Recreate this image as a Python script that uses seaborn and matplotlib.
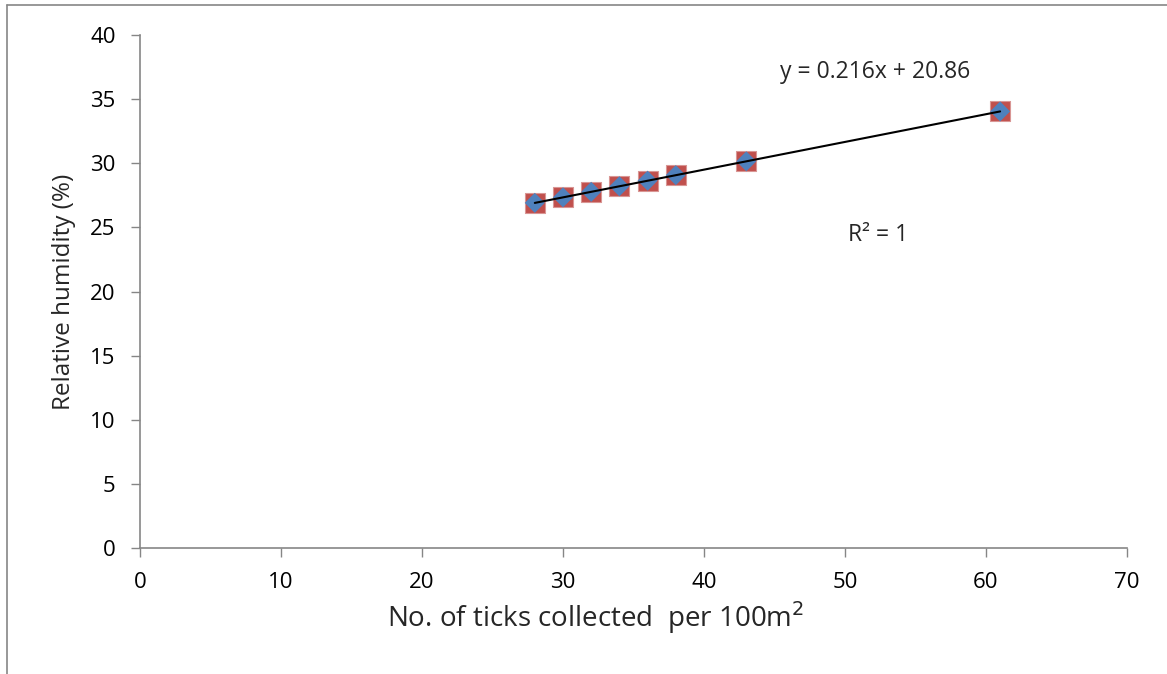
import matplotlib
matplotlib.use("Agg")
import matplotlib.pyplot as plt
import seaborn as sns
import numpy as np
import pandas as pd
from matplotlib.lines import Line2D

ticks_per_100m2 = [28, 30, 32, 34, 36, 38, 43, 61]
relative_humidity = [26.91, 27.34, 27.77, 28.20, 28.64, 29.07, 30.15, 34.04]
x_ticks = [0, 10, 20, 30, 40, 50, 60, 70]
y_ticks = [0, 5, 10, 15, 20, 25, 30, 35, 40]

df = pd.DataFrame({"x": ticks_per_100m2, "y": relative_humidity})

sns.set_theme(style="white")
plt.rcParams["font.family"] = ["Open Sans", "DejaVu Sans"]

fig = plt.figure(figsize=(11.67, 6.74), dpi=100)
ax = fig.add_axes([140/1167, 1 - 548/674, (1127-140)/1167, (548-35)/674])

sns.regplot(data=df, x="x", y="y", ax=ax, scatter=False, ci=None, truncate=True,
            line_kws=dict(color="black", lw=1.5, zorder=4))
sns.scatterplot(data=df, x="x", y="y", ax=ax, marker="s", s=200, color="#C0504D",
                edgecolor="#D99694", linewidth=0.8, zorder=3)
sns.scatterplot(data=df, x="x", y="y", ax=ax, marker="D", s=105, color="#4F81BD",
                edgecolor="none", zorder=3.5)

ax.set_xlim(0, 70)
ax.set_ylim(0, 40)
ax.set_xticks(x_ticks)
ax.set_yticks(y_ticks)
ax.tick_params(axis="both", labelsize=16, colors="#000000", direction="out", length=6.5,
               width=1, color="#868686", left=True, bottom=True)
ax.tick_params(axis="y", pad=11)
ax.tick_params(axis="x", pad=11)
sns.despine(ax=ax)
for s in ["left", "bottom"]:
    ax.spines[s].set_color("#868686")
    ax.spines[s].set_linewidth(1.2)
ax.set_xlabel("No. of ticks collected  per 100m$^2$", fontsize=20)
ax.xaxis.label.set_va("center")
ax.xaxis.set_label_coords(0.462, -0.136)
ax.set_ylabel("Relative humidity (%)", fontsize=17.5, labelpad=10)

ax.text(0.745, 0.927, "y = 0.216x + 20.86", transform=ax.transAxes, fontsize=16.5,
        ha="center", va="center")
ax.text(0.748, 0.610, "R² = 1", transform=ax.transAxes, fontsize=16.5,
        ha="center", va="center")

fig.add_artist(Line2D([7/1167, 7/1167], [0, 1 - 5/674], transform=fig.transFigure,
                      color="#868686", lw=1.2))
fig.add_artist(Line2D([7/1167, 1], [1 - 5/674, 1 - 5/674], transform=fig.transFigure,
                      color="#868686", lw=1.2))

fig.savefig("out.png", dpi=100)
